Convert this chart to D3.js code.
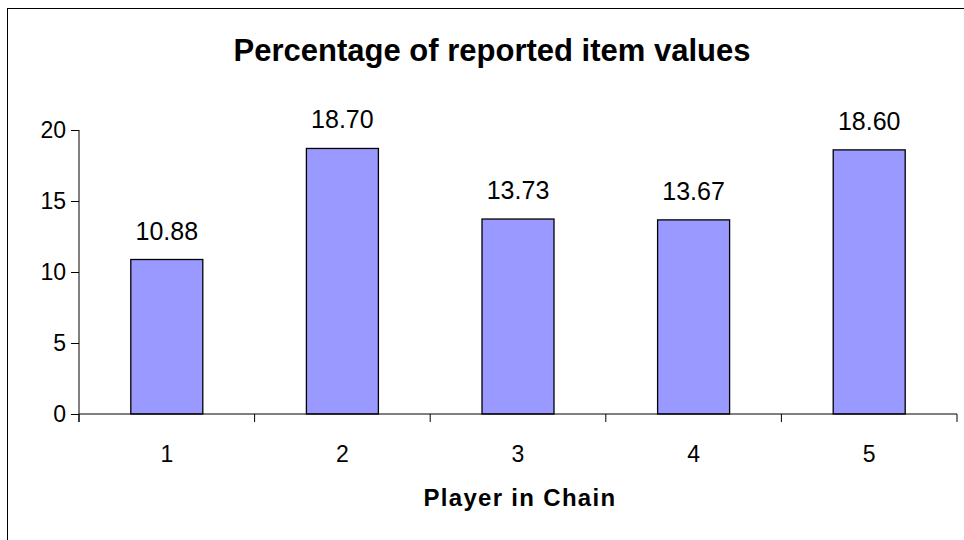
<!DOCTYPE html>
<html>
<head>
<meta charset="utf-8">
<script src="https://cdn.jsdelivr.net/npm/d3@7"></script>
<style>
  html, body { margin: 0; padding: 0; background: #fff; }
  svg { display: block; font-family: "Liberation Sans", Arial, sans-serif; }
</style>
</head>
<body>
<svg id="chart" width="964" height="540"></svg>
<script>
// Chart data
const categories = ["1", "2", "3", "4", "5"];
const values = [10.88, 18.70, 13.73, 13.67, 18.60];
const yTicks = [0, 5, 10, 15, 20];
const titleText = "Percentage of reported item values";
const xAxisTitle = "Player in Chain";

const svg = d3.select("#chart");
const W = 964, H = 540;

// Outer frame (right and bottom edges run off the canvas)
svg.append("rect")
  .attr("x", 7.5).attr("y", 8.5)
  .attr("width", W + 20).attr("height", H + 20)
  .attr("fill", "#fff").attr("stroke", "#000").attr("stroke-width", 1);

const plot = { left: 79, right: 957, top: 130, bottom: 414 };

const x = d3.scaleBand()
  .domain(categories)
  .range([plot.left, plot.right])
  .paddingInner(0.59)
  .paddingOuter(0.295);

const xb = d3.scaleBand().domain(categories).range([plot.left, plot.right]);

const y = d3.scaleLinear().domain([0, 20]).range([plot.bottom, plot.top]);

// Title
svg.append("text")
  .attr("x", 492).attr("y", 61)
  .attr("text-anchor", "middle")
  .attr("font-size", 31).attr("font-weight", "bold")
  .text(titleText);

// Bars
svg.append("g").selectAll("rect")
  .data(values)
  .join("rect")
  .attr("x", (d, i) => x(categories[i]))
  .attr("y", d => y(d))
  .attr("width", x.bandwidth())
  .attr("height", d => y(0) - y(d))
  .attr("fill", "#9999FF")
  .attr("stroke", "#000")
  .attr("stroke-width", 1.3);

// Value labels
svg.append("g").selectAll("text")
  .data(values)
  .join("text")
  .attr("x", (d, i) => x(categories[i]) + x.bandwidth() / 2)
  .attr("y", d => y(d) - 20)
  .attr("text-anchor", "middle")
  .attr("font-size", 25)
  .text(d => d.toFixed(2));

// Y axis
const yAxis = d3.axisLeft(y).tickValues(yTicks).tickSize(8).tickPadding(5).tickFormat(d3.format("d"));
const gy = svg.append("g").attr("transform", `translate(${plot.left},0)`).call(yAxis);
gy.select(".domain").attr("d", `M0,${plot.top}V${plot.bottom + 8}`);
gy.selectAll("text").attr("font-size", 23).attr("font-family", "Liberation Sans, Arial, sans-serif").attr("fill", "#000");
gy.selectAll("line, path").attr("stroke", "#000");

// X axis: ticks at category boundaries
const gx = svg.append("g").attr("transform", `translate(0,${plot.bottom})`);
gx.append("line").attr("x1", plot.left).attr("x2", plot.right).attr("stroke", "#000");
const bounds = categories.map(c => xb(c)).concat([plot.right]);
gx.selectAll("line.tick").data(bounds).join("line")
  .attr("class", "tick")
  .attr("x1", d => d).attr("x2", d => d)
  .attr("y1", 0).attr("y2", 8)
  .attr("stroke", "#000");
gx.selectAll("text").data(categories).join("text")
  .attr("x", d => xb(d) + xb.bandwidth() / 2)
  .attr("y", 48)
  .attr("text-anchor", "middle")
  .attr("font-size", 23)
  .text(d => d);

// X axis title
svg.append("text")
  .attr("x", 520).attr("y", 506)
  .attr("text-anchor", "middle")
  .attr("font-size", 24).attr("font-weight", "bold")
  .attr("letter-spacing", 1.3)
  .text(xAxisTitle);
</script>
</body>
</html>
